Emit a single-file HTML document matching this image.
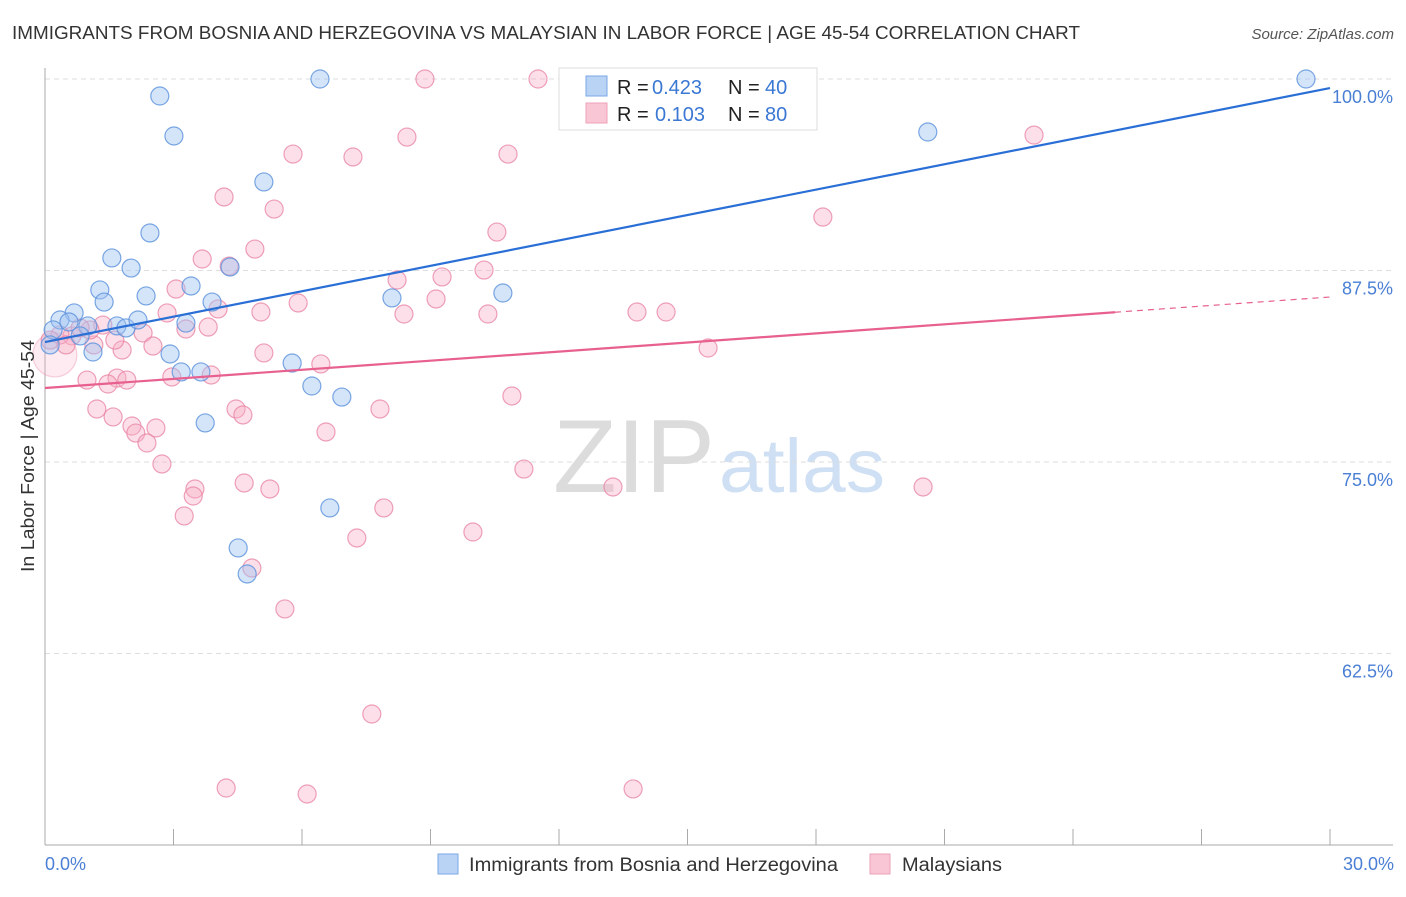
<!DOCTYPE html>
<html><head><meta charset="utf-8"><style>
body{margin:0;background:#fff;font-family:"Liberation Sans",sans-serif}
svg text{font-family:"Liberation Sans",sans-serif}
</style></head><body>
<svg id="chart" width="1406" height="892" xmlns="http://www.w3.org/2000/svg">
<text x="12" y="39" font-size="18.5" fill="#333" textLength="1068" lengthAdjust="spacingAndGlyphs">IMMIGRANTS FROM BOSNIA AND HERZEGOVINA VS MALAYSIAN IN LABOR FORCE | AGE 45-54 CORRELATION CHART</text>
<text x="1394" y="39" font-size="15" fill="#555" font-style="italic" text-anchor="end">Source: ZipAtlas.com</text>
<g>
<text x="553" y="492" font-size="104" fill="#dcdcdc" font-family="Liberation Serif, serif" textLength="162" lengthAdjust="spacingAndGlyphs">ZIP</text>
<text x="719" y="492" font-size="76" fill="#cfe0f4" textLength="166" lengthAdjust="spacingAndGlyphs">atlas</text>
</g>
<g id="grid"></g>
<g id="axes"></g>
<g id="pts"></g>
<g id="trend"></g>
<text transform="translate(34,456) rotate(-90)" font-size="18" fill="#333" text-anchor="middle" textLength="232" lengthAdjust="spacingAndGlyphs">In Labor Force | Age 45-54</text>
<text x="45" y="870" font-size="18" fill="#4a7fd4">0.0%</text>
<text x="1394" y="870" font-size="18" fill="#4a7fd4" text-anchor="end">30.0%</text>
<g>
<rect x="559" y="68" width="258" height="62" fill="#fff" stroke="#ddd"/>
<rect x="586" y="76" width="21" height="20" fill="#b9d3f5" stroke="#7aa7e6"/>
<rect x="586" y="103" width="21" height="20" fill="#f9c6d5" stroke="#eea0b8"/>
<text x="617" y="94" font-size="20" fill="#222">R =</text>
<text x="652" y="94" font-size="20" fill="#3a78d4">0.423</text>
<text x="728" y="94" font-size="20" fill="#222">N =</text>
<text x="765" y="94" font-size="20" fill="#3a78d4">40</text>
<text x="617" y="121" font-size="20" fill="#222">R =</text>
<text x="655" y="121" font-size="20" fill="#3a78d4">0.103</text>
<text x="728" y="121" font-size="20" fill="#222">N =</text>
<text x="765" y="121" font-size="20" fill="#3a78d4">80</text>
</g>
<g>
<rect x="438" y="854" width="20" height="20" fill="#b9d3f5" stroke="#7aa7e6"/>
<text x="469" y="871" font-size="19" fill="#333" textLength="369" lengthAdjust="spacingAndGlyphs">Immigrants from Bosnia and Herzegovina</text>
</g>
<g>
<rect x="870" y="854" width="20" height="20" fill="#f9c6d5" stroke="#eea0b8"/>
<text x="902" y="871" font-size="19" fill="#333" textLength="100" lengthAdjust="spacingAndGlyphs">Malaysians</text>
</g>
</svg>
<script>
const yTicks=[100,87.5,75,62.5];
const yTickLabels=["100.0%","87.5%","75.0%","62.5%"];
const blueX=[6.42,2.68,3.01,5.11,2.45,1.56,2.01,1.28,2.36,3.41,1.38,3.90,4.32,0.68,0.35,0.56,1.00,0.19,1.68,1.89,2.17,3.29,0.82,1.12,2.92,3.18,3.64,5.77,6.23,6.93,3.74,6.65,4.51,4.72,8.10,10.69,20.61,29.44,15.36,0.12];
const blueY=[100,98.89,96.28,93.28,89.95,88.32,87.66,86.23,85.84,86.49,85.44,85.44,87.73,84.73,84.27,84.14,83.88,83.62,83.88,83.75,84.27,84.07,83.23,82.18,82.05,80.88,80.88,81.46,79.96,79.24,77.55,72.0,69.39,67.69,85.71,86.03,96.54,100,99.93,82.64];
const pinkX=[8.87,11.51,8.45,5.79,7.19,10.81,23.09,4.18,5.35,18.16,10.55,4.90,3.67,4.30,10.25,9.27,8.22,3.06,5.91,9.13,4.04,2.85,5.04,8.38,10.34,13.82,14.50,1.35,3.81,3.29,2.29,0.63,1.14,2.52,1.80,5.11,15.48,6.44,3.88,2.96,0.98,1.68,1.91,1.47,1.21,4.46,7.82,1.59,4.62,10.90,2.03,2.59,2.12,6.56,2.38,2.73,11.18,4.65,3.50,5.25,13.26,3.46,20.50,3.25,7.91,7.28,9.99,4.83,5.60,7.63,4.23,6.12,13.73,0.23,0.35,1.05,0.12,0.82,0.49,1.63];
const pinkY=[100,100,96.21,95.10,94.91,95.10,96.34,92.30,91.51,90.99,90.01,88.90,88.25,87.79,87.53,87.08,86.88,86.29,85.38,85.64,84.99,84.73,84.79,84.66,84.66,84.79,84.79,83.94,83.81,83.68,83.42,83.23,82.64,82.57,82.31,82.12,82.44,81.40,80.68,80.55,80.35,80.48,80.35,80.09,78.46,78.46,78.46,77.94,78.07,79.31,77.35,77.22,76.89,76.96,76.24,74.87,74.54,73.63,73.24,73.24,73.37,72.78,73.37,71.48,72.0,70.04,70.43,68.08,65.41,58.55,53.72,53.33,53.66,81.99,83.29,83.62,82.96,83.75,82.64,82.96];
const blueTrend=[82.83,99.41];
const pinkTrend=[79.83,85.77];
const pinkSolidEnd=24.98;
const NS="http://www.w3.org/2000/svg";
const X=v=>45+v/30*1285, Y=v=>79+(100-v)*15.32;
function mk(tag,attrs,parent){const e=document.createElementNS(NS,tag);for(const k in attrs)e.setAttribute(k,attrs[k]);parent.appendChild(e);return e;}
const grid=document.getElementById('grid'),axes=document.getElementById('axes'),pts=document.getElementById('pts'),trend=document.getElementById('trend');
yTicks.forEach((t,i)=>{
 const l=mk('line',{x1:45,x2:1393,y1:Y(t),y2:Y(t),stroke:'#ddd','stroke-dasharray':'5,4'},grid);
 
 
 const tx=mk('text',{x:1393,y:Y(t)+24,'font-size':18,fill:'#4a7fd4','text-anchor':'end'},grid);
 tx.textContent=yTickLabels[i];
 
 
});
const ya=mk('line',{x1:45,x2:45,y1:68,y2:845,stroke:'#aaa'},axes);


const xa=mk('line',{x1:45,x2:1393,y1:845,y2:845,stroke:'#aaa'},axes);


for(let i=0;i<=10;i++){
 const t=mk('line',{x1:X(i*3),x2:X(i*3),y1:829,y2:845,stroke:'#aaa'},axes);
 
 
}
function dots(xs,ys,fill,stroke,name){
 xs.forEach((x,i)=>{
  const big=(name==='malaysian-point'&&i===pinkX.length-7);
  const c=mk('circle',{cx:X(x),cy:Y(ys[i]),r:big?22:9,fill:big?'rgba(248,175,198,0.25)':fill,stroke:big?'rgba(232,130,162,0.35)':stroke,'stroke-width':1.2},pts);
  
  
 });
}
dots(pinkX,pinkY,'rgba(248,175,198,0.4)','rgba(232,130,162,0.75)','malaysian-point');
dots(blueX,blueY,'rgba(160,195,242,0.45)','rgba(90,145,220,0.8)','bosnia-point');
const bl=mk('line',{x1:X(0),y1:Y(blueTrend[0]),x2:X(30),y2:Y(blueTrend[1]),stroke:'#2a6fd6','stroke-width':2.2},trend);


const py=x=>pinkTrend[0]+(pinkTrend[1]-pinkTrend[0])*x/30;
const pl=mk('line',{x1:X(0),y1:Y(pinkTrend[0]),x2:X(pinkSolidEnd),y2:Y(py(pinkSolidEnd)),stroke:'#e8608f','stroke-width':2.2},trend);


const pd=mk('line',{x1:X(pinkSolidEnd),y1:Y(py(pinkSolidEnd)),x2:X(30),y2:Y(pinkTrend[1]),stroke:'#e8608f','stroke-width':1.2,'stroke-dasharray':'6,5'},trend);


</script>
</body></html>
